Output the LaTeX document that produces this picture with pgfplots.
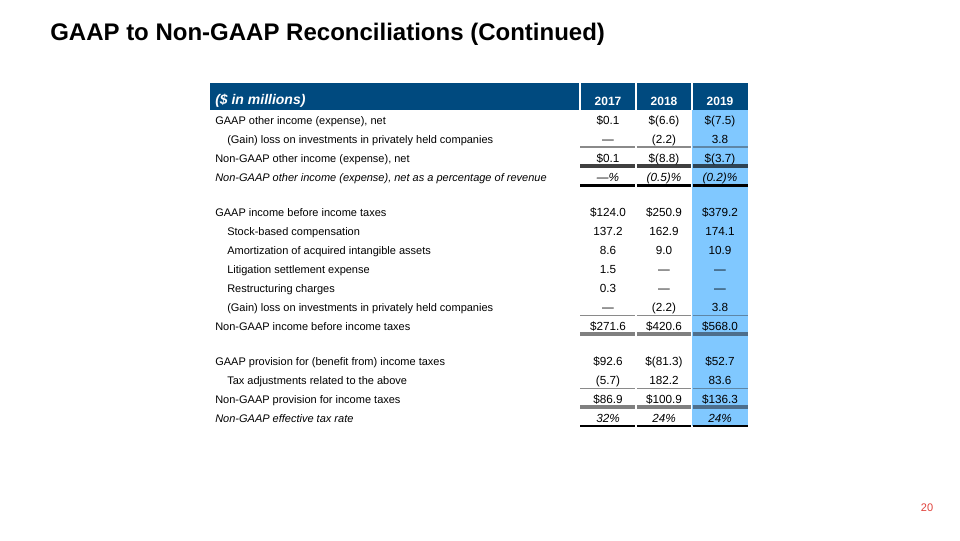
\documentclass[border=0pt]{standalone}
\usepackage{pgfplots}
\pgfplotsset{compat=1.18}
\usepackage{fontspec}
\setmainfont{Liberation Sans}
\definecolor{hdr}{HTML}{004A7F}
\definecolor{lb}{HTML}{80C8FF}
\definecolor{rulethin}{HTML}{8A8A8A}
\definecolor{rulethinb}{HTML}{5E86A6}
\definecolor{rulethick}{HTML}{808080}
\definecolor{rulethickb}{HTML}{4D6E8C}
\definecolor{ruledark}{HTML}{404040}
\definecolor{ruledarkb}{HTML}{2E4354}
\definecolor{pgred}{HTML}{E0403A}
\tikzset{lbl/.style={font=\fontsize{8.25}{10}\selectfont, inner sep=0pt},
         num/.style={font=\fontsize{8.8}{10}\selectfont, inner sep=0pt}}
% y = baseline (pixels from top)
\newcommand\Row[6]{%
  \node[lbl,anchor=base west] at (axis cs:#2,#1) {#3};
  \node[num,anchor=base] at (axis cs:608,#1) {#4};
  \node[num,anchor=base] at (axis cs:664,#1) {#5};
  \node[num,anchor=base] at (axis cs:720,#1) {#6};}
% rule across the three number columns: y, colour white cols, colour blue col, width
\newcommand\Rule[4]{%
  \addplot[color=#2, line width=#4, forget plot] coordinates {(580,#1) (635.2,#1)};
  \addplot[color=#2, line width=#4, forget plot] coordinates {(636.8,#1) (691.2,#1)};
  \addplot[color=#3, line width=#4, forget plot] coordinates {(692.8,#1) (748,#1)};}
\begin{document}
\begin{tikzpicture}
\begin{axis}[scale only axis, width=720pt, height=405pt,
  xmin=0, xmax=960, ymin=0, ymax=540, y dir=reverse,
  hide axis, clip=false]
% background
\addplot[fill=white, draw=none] coordinates {(0,0) (960,0) (960,540) (0,540)} -- cycle;
% header band and highlighted 2019 column
\addplot[fill=hdr, draw=none] coordinates {(210,83) (748,83) (748,109.5) (210,109.5)} -- cycle;
\addplot[fill=lb, draw=none] coordinates {(692,109.5) (748,109.5) (748,426) (692,426)} -- cycle;
% white column separators in header
\addplot[white, line width=1.1pt] coordinates {(580,83) (580,109.5)};
\addplot[white, line width=1.1pt] coordinates {(636,83) (636,109.5)};
\addplot[white, line width=1.1pt] coordinates {(692,83) (692,109.5)};
% rules
\Rule{147}{rulethin}{rulethinb}{1.1pt}
\Rule{166}{ruledark}{ruledarkb}{2.4pt}
\Rule{185.5}{black}{black}{1.6pt}
\Rule{315.5}{rulethin}{rulethinb}{1.1pt}
\Rule{334}{rulethick}{rulethickb}{2.4pt}
\Rule{388.5}{rulethin}{rulethinb}{1.1pt}
\Rule{407}{rulethick}{rulethickb}{2.4pt}
\Rule{426}{black}{black}{1.6pt}
% title
\node[anchor=base west, inner sep=0pt, font=\fontsize{18}{21}\selectfont\bfseries] at (axis cs:50,40) {GAAP to Non-GAAP Reconciliations (Continued)};
% header text
\node[anchor=base west, inner sep=0pt, text=white, font=\fontsize{10.5}{12}\selectfont\bfseries\itshape] at (axis cs:215,104) {(\$ in millions)};
\node[anchor=base, inner sep=0pt, text=white, font=\fontsize{9}{11}\selectfont\bfseries] at (axis cs:608,105) {2017};
\node[anchor=base, inner sep=0pt, text=white, font=\fontsize{9}{11}\selectfont\bfseries] at (axis cs:664,105) {2018};
\node[anchor=base, inner sep=0pt, text=white, font=\fontsize{9}{11}\selectfont\bfseries] at (axis cs:720,105) {2019};
% rows
\Row{124}{215}{GAAP other income (expense), net}{\$0.1}{\$(6.6)}{\$(7.5)}
\Row{143}{227}{(Gain) loss on investments in privately held companies}{—}{(2.2)}{3.8}
\Row{162}{215}{Non-GAAP other income (expense), net}{\$0.1}{\$(8.8)}{\$(3.7)}
\Row{181}{215}{\itshape Non-GAAP other income (expense), net as a percentage of revenue}{\itshape —\%}{\itshape (0.5)\%}{\itshape (0.2)\%}
\Row{216}{215}{GAAP income before income taxes}{\$124.0}{\$250.9}{\$379.2}
\Row{235}{227}{Stock-based compensation}{137.2}{162.9}{174.1}
\Row{254}{227}{Amortization of acquired intangible assets}{8.6}{9.0}{10.9}
\Row{273}{227}{Litigation settlement expense}{1.5}{—}{—}
\Row{292}{227}{Restructuring charges}{0.3}{—}{—}
\Row{311}{227}{(Gain) loss on investments in privately held companies}{—}{(2.2)}{3.8}
\Row{330}{215}{Non-GAAP income before income taxes}{\$271.6}{\$420.6}{\$568.0}
\Row{365}{215}{GAAP provision for (benefit from) income taxes}{\$92.6}{\$(81.3)}{\$52.7}
\Row{384}{227}{Tax adjustments related to the above}{(5.7)}{182.2}{83.6}
\Row{403}{215}{Non-GAAP provision for income taxes}{\$86.9}{\$100.9}{\$136.3}
\Row{422}{215}{\itshape Non-GAAP effective tax rate}{\itshape 32\%}{\itshape 24\%}{\itshape 24\%}
% page number
\node[anchor=base, inner sep=0pt, text=pgred, font=\fontsize{8.25}{10}\selectfont] at (axis cs:927,511) {20};
\end{axis}
\end{tikzpicture}
\end{document}
